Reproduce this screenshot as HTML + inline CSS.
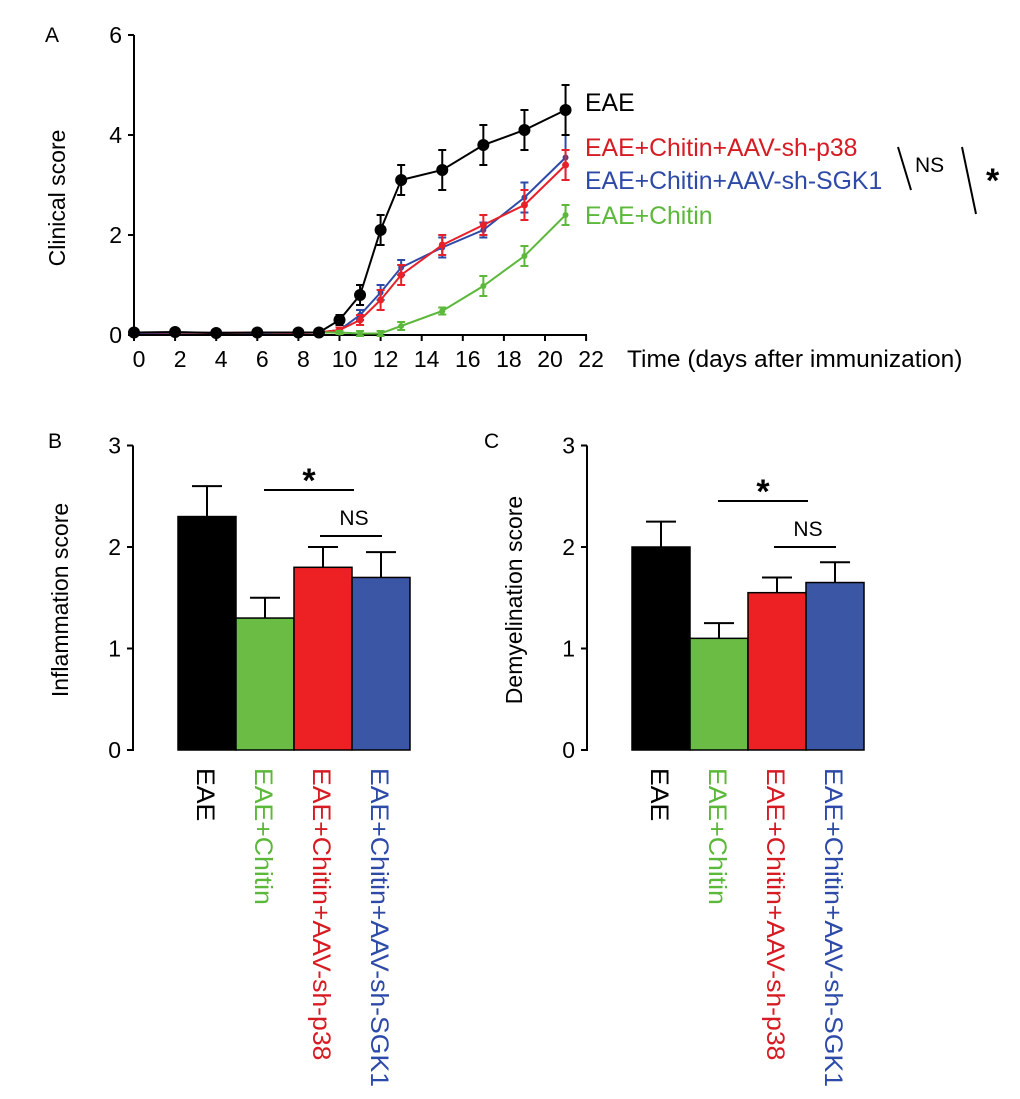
<!DOCTYPE html>
<html><head><meta charset="utf-8"><style>
body{margin:0;background:#fff}
svg{display:block;font-family:"Liberation Sans",Arial,sans-serif}
</style></head><body>
<svg id="fig" width="1020" height="1099" viewBox="0 0 1020 1099" xmlns="http://www.w3.org/2000/svg">
<g id="pa"></g>
<g id="pb"></g>
<g id="pc"></g>
</svg>
<script>
const days=[0,2,4,6,8,9,10,11,12,13,15,17,19,21];
const eaeVals=[0.05,0.06,0.04,0.05,0.05,0.05,0.3,0.8,2.1,3.1,3.3,3.8,4.1,4.5];
const eaeErr=[0.03,0.03,0.03,0.03,0.03,0.05,0.1,0.2,0.3,0.3,0.4,0.4,0.4,0.5];
const p38Vals=[0.05,0.05,0.04,0.05,0.04,0.05,0.1,0.3,0.7,1.2,1.8,2.2,2.6,3.4];
const p38Err=[0.03,0.03,0.03,0.03,0.03,0.03,0.05,0.1,0.2,0.2,0.2,0.2,0.3,0.3];
const sgkVals=[0.04,0.04,0.05,0.04,0.05,0.05,0.1,0.4,0.85,1.35,1.75,2.1,2.75,3.55];
const sgkErr=[0.03,0.03,0.04,0.03,0.03,0.05,0.05,0.1,0.15,0.15,0.2,0.15,0.3,0.45];
const chitinDays=[9,10,11,12,13,15,17,19,21];
const chitinVals=[0.05,0.05,0.03,0.03,0.18,0.48,0.98,1.58,2.4];
const chitinErr=[0.03,0.03,0.05,0.05,0.08,0.07,0.2,0.2,0.2];
const xTicks=[0,2,4,6,8,10,12,14,16,18,20,22];
const yTicksA=[0,2,4,6];
const barGroups=["EAE","EAE+Chitin","EAE+Chitin+AAV-sh-p38","EAE+Chitin+AAV-sh-SGK1"];
const inflVals=[2.3,1.3,1.8,1.7];
const inflErr=[0.3,0.2,0.2,0.25];
const demyVals=[2.0,1.1,1.55,1.65];
const demyErr=[0.25,0.15,0.15,0.2];
const yTicksB=[0,1,2,3];
const NS="http://www.w3.org/2000/svg";
function el(p,t,a,txt){const e=document.createElementNS(NS,t);for(const k in a)e.setAttribute(k,a[k]);if(txt!==undefined)e.textContent=txt;p.appendChild(e);return e;}
// Panel A
const A=document.getElementById('pa');
const ax=d=>134+d*20.55, ay=v=>335-v*50;
let t=el(A,'text',{x:45,y:42,'font-size':21},'A');


let l=el(A,'line',{x1:134,y1:35,x2:134,y2:336,stroke:'#000','stroke-width':2});


l=el(A,'line',{x1:133,y1:335,x2:587,y2:335,stroke:'#000','stroke-width':2});


yTicksA.forEach(v=>{el(A,'line',{x1:128,y1:ay(v),x2:134,y2:ay(v),stroke:'#000','stroke-width':2});
 const tt=el(A,'text',{x:122,y:ay(v)+8,'font-size':23,'text-anchor':'end'},v);
 
 });
xTicks.forEach(v=>{el(A,'line',{x1:ax(v),y1:335,x2:ax(v),y2:341,stroke:'#000','stroke-width':2});
 const tt=el(A,'text',{x:ax(v)+5,y:367,'font-size':23,'text-anchor':'middle'},v);
 
 });
t=el(A,'text',{x:627,y:367,'font-size':24.5},'Time (days after immunization)');


t=el(A,'text',{x:65,y:198,'font-size':23,'text-anchor':'middle',transform:'rotate(-90 65 198)'},'Clinical score');


function series(xs,vs,es,col,r,name){
 const g=el(A,'g',{});
 
 
 el(g,'polyline',{points:xs.map((d,i)=>ax(d)+','+ay(vs[i])).join(' '),fill:'none',stroke:col,'stroke-width':2});
 xs.forEach((d,i)=>{const x=ax(d),y1=ay(vs[i]+es[i]),y2=ay(vs[i]-es[i]);
  el(g,'line',{x1:x,y1:y1,x2:x,y2:y2,stroke:col,'stroke-width':2});
  el(g,'line',{x1:x-4,y1:y1,x2:x+4,y2:y1,stroke:col,'stroke-width':2});
  el(g,'line',{x1:x-4,y1:y2,x2:x+4,y2:y2,stroke:col,'stroke-width':2});
  const c=el(g,'circle',{cx:x,cy:ay(vs[i]),r:r,fill:col});
  
  });
}
series(days,sgkVals,sgkErr,'#2e4aa8',3,'series-sh-sgk1');
series(days,p38Vals,p38Err,'#e8202a',3.5,'series-sh-p38');
series(chitinDays,chitinVals,chitinErr,'#5cb83a',3,'series-chitin');
series(days,eaeVals,eaeErr,'#000',6,'series-eae');
[['EAE',585,111,'#000'],['EAE+Chitin+AAV-sh-p38',585,156,'#d61b23'],['EAE+Chitin+AAV-sh-SGK1',585,189,'#2e4aa8'],['EAE+Chitin',585,224,'#5cb83a']].forEach(a=>{
 const tt=el(A,'text',{x:a[1],y:a[2],'font-size':24.8,fill:a[3]},a[0]);
 
 });
el(A,'line',{x1:898,y1:147,x2:911,y2:190,stroke:'#000','stroke-width':2});
t=el(A,'text',{x:915,y:172,'font-size':21},'NS');


el(A,'line',{x1:962,y1:147,x2:976,y2:214,stroke:'#000','stroke-width':2});
t=el(A,'text',{x:986,y:192,'font-size':34,'font-weight':'bold'},'*');


// Bar panels
const cols=['#000','#6abc45','#ed2024','#3a56a5'];
const tcols=['#000','#5cb83a','#d61b23','#2e4aa8'];
function bars(G,axisX,bx,vals,errs,label,title,sig){
 const by=v=>750-v*101.5;
 let tt=el(G,'text',{x:label[1],y:label[2],'font-size':21},label[0]);
 
 
 el(G,'line',{x1:axisX,y1:by(3),x2:axisX,y2:by(0)+1,stroke:'#000','stroke-width':2});
 yTicksB.forEach(v=>{el(G,'line',{x1:axisX-6,y1:by(v),x2:axisX,y2:by(v),stroke:'#000','stroke-width':2});
  const q=el(G,'text',{x:axisX-12,y:by(v)+8,'font-size':23,'text-anchor':'end'},v);
  
  });
 tt=el(G,'text',{x:axisX-65,y:600,'font-size':23,'text-anchor':'middle',transform:`rotate(-90 ${axisX-65} 600)`},title);
 
 
 vals.forEach((v,i)=>{const x=bx+i*58,cx=x+29;
  el(G,'line',{x1:cx,y1:by(v),x2:cx,y2:by(v+errs[i]),stroke:'#000','stroke-width':2});
  el(G,'line',{x1:cx-15,y1:by(v+errs[i]),x2:cx+15,y2:by(v+errs[i]),stroke:'#000','stroke-width':2});
  const r=el(G,'rect',{x:x,y:by(v),width:58,height:by(0)-by(v),fill:cols[i],stroke:'#000','stroke-width':1.5});
  
  
  const q=el(G,'text',{x:cx-10,y:768,'font-size':24,fill:tcols[i],'text-anchor':'start',textLength:'0',transform:`rotate(90 ${cx-10} 768) scale(1.11 1.04)`},barGroups[i]);
  q.removeAttribute('textLength');
  q.setAttribute('transform',`translate(${cx-10} 768) rotate(90) scale(1.11 1.05)`);
  q.setAttribute('x',0);q.setAttribute('y',0);
  
  });
 el(G,'line',{x1:bx+86,y1:sig[0],x2:bx+176,y2:sig[0],stroke:'#000','stroke-width':2});
 tt=el(G,'text',{x:bx+131,y:sig[0]+2,'font-size':34,'font-weight':'bold','text-anchor':'middle'},'*');
 
 
 el(G,'line',{x1:bx+142,y1:sig[1],x2:bx+204,y2:sig[1],stroke:'#000','stroke-width':2});
 tt=el(G,'text',{x:bx+176,y:sig[1]-11,'font-size':21,'text-anchor':'middle'},'NS');
 
 
}
bars(document.getElementById('pb'),133,178,inflVals,inflErr,['B',48,448],'Inflammation score',[490,536]);
bars(document.getElementById('pc'),587,632,demyVals,demyErr,['C',484,448],'Demyelination score',[501,547]);
</script>
</body></html>
